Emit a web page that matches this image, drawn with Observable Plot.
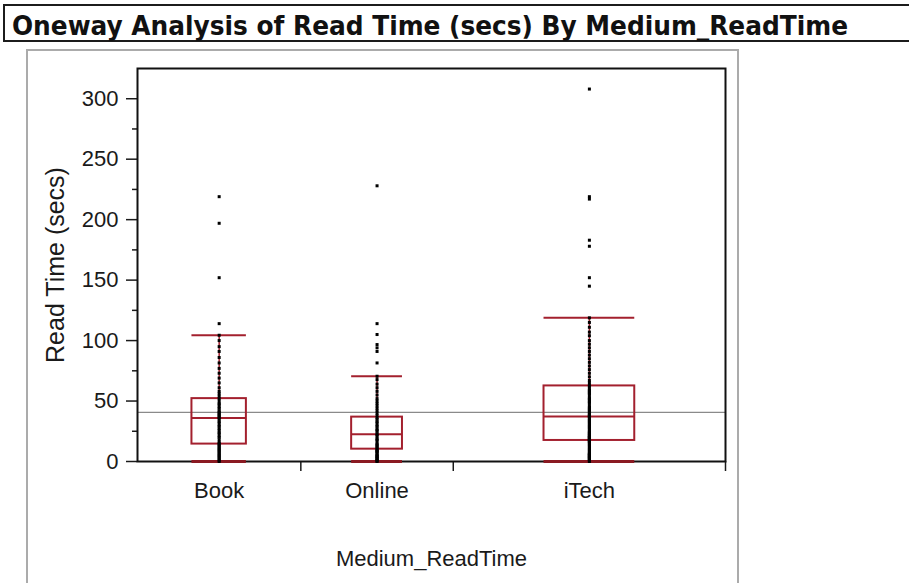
<!DOCTYPE html>
<html>
<head>
<meta charset="utf-8">
<script src="https://cdn.jsdelivr.net/npm/d3@7"></script>
<script src="https://cdn.jsdelivr.net/npm/@observablehq/plot@0.6"></script>
<style>
html, body { margin: 0; padding: 0; background: #fff; }
#page { position: relative; width: 909px; height: 583px; overflow: hidden; background: #fff; font-family: "Liberation Sans", Arial, sans-serif; }
#titlebox { position: absolute; left: 3px; top: 4px; width: 930px; height: 34px; border: 2px solid #1c1c1c; }
#titlesvg { position: absolute; left: 0; top: 0; }
#panel { position: absolute; left: 26px; top: 49px; width: 709px; height: 560px; border: 2px solid #ababab; border-bottom: none; }
#chart { position: absolute; left: 0; top: 46px; }
</style>
</head>
<body>
<div id="page">
  <div id="titlebox"></div>
  <svg id="titlesvg" width="909" height="46"><text id="titletext" x="12" y="35" font-size="26" font-weight="bold" fill="#111" font-family="'Liberation Sans Narrow','Arial Narrow','DejaVu Sans Condensed','Liberation Sans',sans-serif" textLength="836" lengthAdjust="spacingAndGlyphs"></text></svg>
  <div id="panel"></div>
  <div id="chart"></div>
</div>
<script>
const titleText = "Oneway Analysis of Read Time (secs) By Medium_ReadTime";
const xLabel = "Medium_ReadTime";
const yLabel = "Read Time (secs)";

const categories = ["Book", "Online", "iTech"];
const counts = [60, 56, 100];
const q1Values = [14.4, 10.2, 17.4];
const medianValues = [36, 22.6, 37.3];
const q3Values = [52, 36.7, 62.5];
const whiskerLow = [0, 0, 0];
const whiskerHigh = [104.4, 70.5, 118.8];
const grandMean = 40.7;

const yTicks = [0, 50, 100, 150, 200, 250, 300];
const yMinorTicks = [25, 75, 125, 175, 225, 275];
const yDomain = [0, 325];

const bookTimes = [219, 197, 152, 114, 104.4, 100, 95, 91, 86, 81.5, 77, 73, 69, 65, 61,
  58, 56, 54, 52, 50, 48, 47, 45, 44, 42, 41, 40, 39, 38, 37,
  36, 35, 33, 32, 30, 29, 27, 26, 24, 23, 21, 20, 18, 16, 15,
  14, 13, 12, 11, 10, 9, 8, 7, 6, 5, 4, 3, 2, 1, 0];
const onlineTimes = [228, 114, 105, 96.7, 94, 91, 81.5, 70.5, 67.7, 64, 61, 58, 55, 52,
  50, 48, 46, 44, 42, 40, 38, 36, 35, 33, 32, 30, 29, 27,
  26, 25, 23, 22, 21, 19, 18, 17, 15, 14, 13, 12, 11, 10,
  9, 8.5, 8, 7, 6, 5, 4.5, 4, 3, 2.5, 2, 1, 0.5, 0];
const itechTimes = [308, 219, 217, 183, 178, 152, 145, 118.8, 115, 111, 107, 104, 100, 97, 94, 91, 88, 85, 82, 79, 76, 73, 70, 67, 65,
  63, 62, 60, 59, 58, 57, 56, 55, 53, 52, 51, 50, 49, 48, 46, 45, 44, 43, 42, 41, 40, 39, 38, 37.5, 37,
  36, 35, 34, 33, 32, 31, 30, 29, 28, 27, 26, 25, 24, 23.5, 23, 22, 21.5, 21, 20.5, 20, 19.5, 19, 18.5, 18, 17.5,
  17, 16.5, 16, 15, 14, 13, 12, 11, 10, 9, 8, 7, 6.5, 6, 5.5, 5, 4.5, 4, 3.5, 3, 2.5, 2, 1.5, 1, 0];
const groupTimes = [bookTimes, onlineTimes, itechTimes];

document.getElementById("titletext").textContent = titleText;

const total = d3.sum(counts);
const groups = categories.map((c, i) => {
  const start = d3.sum(counts.slice(0, i));
  const center = start + counts[i] / 2;
  return {
    cat: c, n: counts[i], start, end: start + counts[i], center,
    left: center - counts[i] / 6, right: center + counts[i] / 6,
    q1: q1Values[i], median: medianValues[i], q3: q3Values[i],
    lo: whiskerLow[i], hi: whiskerHigh[i]
  };
});
const boundaries = groups.map(g => g.end);
const points = groups.flatMap((g, i) => groupTimes[i].map(v => ({x: g.center, y: v})));

const red = "#a3202e";
const chart = Plot.plot({
  width: 909,
  height: 537,
  marginTop: 22,
  marginBottom: 122,
  marginLeft: 137,
  marginRight: 184,
  style: {background: "transparent", fontFamily: "'Liberation Sans', Arial, sans-serif", color: "#1a1a1a"},
  x: {domain: [0, total], axis: null, label: null},
  y: {domain: yDomain, axis: null, label: null},
  marks: [
    Plot.ruleY([grandMean], {stroke: "#8a8a8a", strokeWidth: 1.3}),
    Plot.axisY({ticks: yMinorTicks, tickSize: 5, tickFormat: () => "", strokeWidth: 1.5, label: null}),
    Plot.axisY({ticks: yTicks, tickSize: 11, tickPadding: 8, fontSize: 22, strokeWidth: 1.5, label: null}),
    Plot.axisX({ticks: boundaries, tickSize: 10, tickFormat: () => "", strokeWidth: 1.5, label: null}),
    Plot.frame({stroke: "#111", strokeWidth: 2}),
    Plot.ruleX(groups, {x: "center", y1: "q3", y2: "hi", stroke: red, strokeWidth: 1.5}),
    Plot.ruleX(groups, {x: "center", y1: "lo", y2: "q1", stroke: red, strokeWidth: 1.5}),
    Plot.rect(groups, {x1: "left", x2: "right", y1: "q1", y2: "q3", fill: "none", stroke: red, strokeWidth: 2}),
    Plot.ruleY(groups, {y: "median", x1: "left", x2: "right", stroke: red, strokeWidth: 2}),
    Plot.ruleY(groups, {y: "hi", x1: "left", x2: "right", stroke: red, strokeWidth: 2}),
    Plot.ruleY(groups, {y: "lo", x1: "left", x2: "right", stroke: "#8a1a22", strokeWidth: 3}),
    Plot.dot(points, {x: "x", y: "y", symbol: "square", r: 1.7, fill: "#000", stroke: null}),
    Plot.text(groups, {x: "center", text: "cat", frameAnchor: "bottom", dy: 36, fontSize: 22, fill: "#1a1a1a"}),
    Plot.text([xLabel], {text: d => d, frameAnchor: "bottom", dy: 104, fontSize: 22, fill: "#1a1a1a"}),
    Plot.text([yLabel], {text: d => d, frameAnchor: "left", textAnchor: "middle", rotate: -90, dx: -82, fontSize: 25, fill: "#1a1a1a"})
  ]
});
document.getElementById("chart").appendChild(chart);
</script>
</body>
</html>
